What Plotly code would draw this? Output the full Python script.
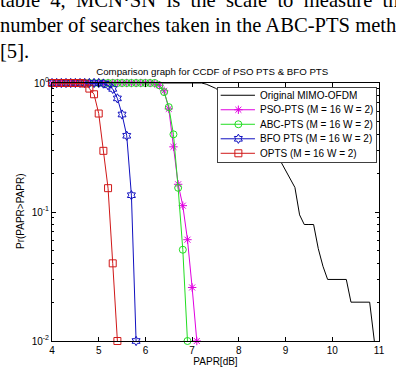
import plotly.graph_objects as go

# ---------------- data ----------------
papr_db = [4.0, 4.1, 4.2, 4.3, 4.4, 4.5, 4.6, 4.7, 4.8, 4.9,
           5.0, 5.1, 5.2, 5.3, 5.4, 5.5, 5.6, 5.7, 5.8, 5.9,
           6.0, 6.1, 6.2, 6.3, 6.4, 6.5, 6.6, 6.7, 6.8, 6.9,
           7.0, 7.1, 7.2, 7.3, 7.4, 7.5, 7.6, 7.7, 7.8, 7.9,
           8.0, 8.1, 8.2, 8.3, 8.4, 8.5, 8.6, 8.7, 8.8, 8.9,
           9.0, 9.1, 9.2, 9.3, 9.4, 9.5, 9.6, 9.7, 9.8, 9.9,
           10.0, 10.1, 10.2, 10.3, 10.4, 10.5, 10.6, 10.7, 10.8, 10.9]

orig_ccdf = [1, 1, 1, 1, 1, 1, 1, 1, 1, 1,
             1, 1, 1, 1, 1, 1, 1, 1, 1, 1,
             1, 1, 1, 1, 1, 1, 1, 1, 1, 1,
             1, 1, 1, 0.98, 0.95, 0.91, 0.86, 0.80, 0.74, 0.68,
             0.62, 0.56, 0.50, 0.45, 0.41, 0.37, 0.33, 0.30, 0.27, 0.245,
             0.21, 0.18, 0.155, 0.095, 0.08, 0.08, 0.08, 0.052, 0.038, 0.03,
             0.03, 0.03, 0.03, 0.03, 0.02, 0.02, 0.02, 0.02, 0.02, 0.01]

pso_ccdf = [1, 1, 1, 1, 1, 1, 1, 1, 1, 1,
            1, 1, 1, 1, 1, 1, 1, 1, 1, 1,
            1, 1, 0.99, 0.96, 0.87, 0.63, 0.32, 0.164, 0.112, 0.061,
            0.026, 0.01]

abc_ccdf = [1, 1, 1, 1, 1, 1, 1, 1, 1, 1,
            1, 1, 1, 1, 1, 1, 1, 1, 1, 1,
            1, 1, 1, 0.96, 0.85, 0.65, 0.40, 0.154, 0.051, 0.01]

bfo_ccdf = [1, 1, 1, 1, 1, 1, 1, 1, 1, 1,
            1, 0.99, 0.96, 0.90, 0.76, 0.57, 0.39, 0.135, 0.01]

opts_ccdf = [1, 1, 1, 1, 1, 1, 1, 0.99, 0.905, 0.818,
             0.58, 0.298, 0.153, 0.040, 0.01]

series_names = ["Original MIMO-OFDM",
                "PSO-PTS (M = 16 W = 2)",
                "ABC-PTS (M = 16 W = 2)",
                "BFO PTS (M = 16 W = 2)",
                "OPTS (M = 16 W = 2)"]

x_tick_vals = [4, 5, 6, 7, 8, 9, 10, 11]
y_tick_vals = [0.01, 0.1, 1]
y_tick_text = ["10<sup>-2</sup>", "10<sup>-1</sup>", "10<sup>0</sup>"]
y_minor_vals = [0.02, 0.03, 0.04, 0.05, 0.06, 0.07, 0.08, 0.09,
                0.2, 0.3, 0.4, 0.5, 0.6, 0.7, 0.8, 0.9]

GAP = "\u00a0\u00a0"
page_lines = [GAP.join(["table", "4,", "MCN\u00b7SN", "is", "the", "scale", "to", "measure", "the"]),
              "number of searches taken in the ABC-PTS method",
              "[5]."]

title_text = "Comparison graph for CCDF of PSO PTS &amp; BFO PTS"
x_title = "PAPR[dB]"
y_title = "Pr(PAPR>PAPR)"

# ---------------- styles ----------------
SANS = "Liberation Sans, Arial, sans-serif"
SERIF = "Liberation Serif, Times New Roman, serif"
FS = 10

all_series = [orig_ccdf, pso_ccdf, abc_ccdf, bfo_ccdf, opts_ccdf]
colors = ["#000000", "#e000e0", "#22dd22", "#1010c0", "#d01818"]
symbols = [None, "asterisk-open", "circle-open", "hexagram-open", "square-open"]
sizes = [0, 7, 7, 7, 7]

fig = go.Figure()

for name, y, col, sym, sz in zip(series_names, all_series, colors, symbols, sizes):
    if sym is None:
        fig.add_trace(go.Scatter(x=papr_db[:len(y)], y=y, mode="lines", name=name,
                                 line=dict(color=col, width=1), hoverinfo="skip"))
    else:
        fig.add_trace(go.Scatter(x=papr_db[:len(y)], y=y, mode="lines+markers", name=name,
                                 line=dict(color=col, width=1),
                                 marker=dict(symbol=sym, size=sz, color=col,
                                             line=dict(color=col, width=1)),
                                 cliponaxis=False, hoverinfo="skip"))

# ---------------- hand-drawn legend (inset subplot) ----------------
n = len(series_names)
for i, (name, col, sym, sz) in enumerate(zip(series_names, colors, symbols, sizes)):
    row = n - 0.5 - i
    fig.add_trace(go.Scatter(x=[0.017, 0.234], y=[row, row], mode="lines",
                             line=dict(color=col, width=1), xaxis="x2", yaxis="y2",
                             hoverinfo="skip"))
    if sym is not None:
        fig.add_trace(go.Scatter(x=[0.129], y=[row], mode="markers",
                                 marker=dict(symbol=sym, size=sz, color=col,
                                             line=dict(color=col, width=1)),
                                 xaxis="x2", yaxis="y2", hoverinfo="skip"))
    fig.add_annotation(x=0.254, y=row, xref="x2", yref="y2", text=name, showarrow=False,
                       xanchor="left", yanchor="middle",
                       font=dict(family=SANS, size=FS, color="black"))

# ---------------- page text above the figure ----------------
line_centers = [0.3, 25.2, 50.5]
for txt, c in zip(page_lines, line_centers):
    fig.add_annotation(x=0, y=1, xref="paper", yref="paper", text=txt, showarrow=False,
                       xanchor="left", yanchor="middle", xshift=-52 - 2, yshift=83 - c,
                       font=dict(family=SERIF, size=20.6, color="black"))

# y-axis title placed explicitly
fig.add_annotation(x=0, y=0.5, xref="paper", yref="paper", text=y_title, showarrow=False,
                   textangle=-90, xanchor="center", yanchor="middle", xshift=-32,
                   font=dict(family=SANS, size=FS, color="black"))

axis_common = dict(showline=True, linecolor="black", linewidth=1, mirror="ticks",
                   ticks="inside", ticklen=4, tickcolor="black", tickwidth=1,
                   showgrid=False, zeroline=False, automargin=False,
                   tickfont=dict(family=SANS, size=FS, color="black"))

fig.update_layout(
    width=396, height=368,
    margin=dict(l=52, r=17, t=83, b=27, autoexpand=False),
    paper_bgcolor="white", plot_bgcolor="white",
    showlegend=False,
    title=dict(text=title_text, x=0.49, xref="paper", xanchor="center",
               y=1 - 71.5 / 368, yref="container", yanchor="middle",
               font=dict(family=SANS, size=9.7, color="black")),
    xaxis=dict(range=[4, 11], tickmode="array", tickvals=x_tick_vals,
               title=dict(text=x_title, standoff=2, font=dict(family=SANS, size=FS, color="black")),
               **axis_common),
    yaxis=dict(type="log", range=[-2, 0], tickmode="array", tickvals=y_tick_vals,
               ticktext=y_tick_text,
               minor=dict(tickmode="array", tickvals=y_minor_vals, ticks="inside",
                          ticklen=2, tickcolor="black", showgrid=False),
               **axis_common),
    xaxis2=dict(domain=[0.5076, 0.9908], anchor="y2", range=[0, 1], showline=True,
                mirror=True, linecolor="#404040", linewidth=1, showticklabels=False,
                ticks="", showgrid=False, zeroline=False, fixedrange=True),
    yaxis2=dict(domain=[0.6938, 0.9806], anchor="x2", range=[-0.1, 5], showline=True,
                mirror=True, linecolor="#404040", linewidth=1, showticklabels=False,
                ticks="", showgrid=False, zeroline=False, fixedrange=True),
)

fig.write_html("out.html")
